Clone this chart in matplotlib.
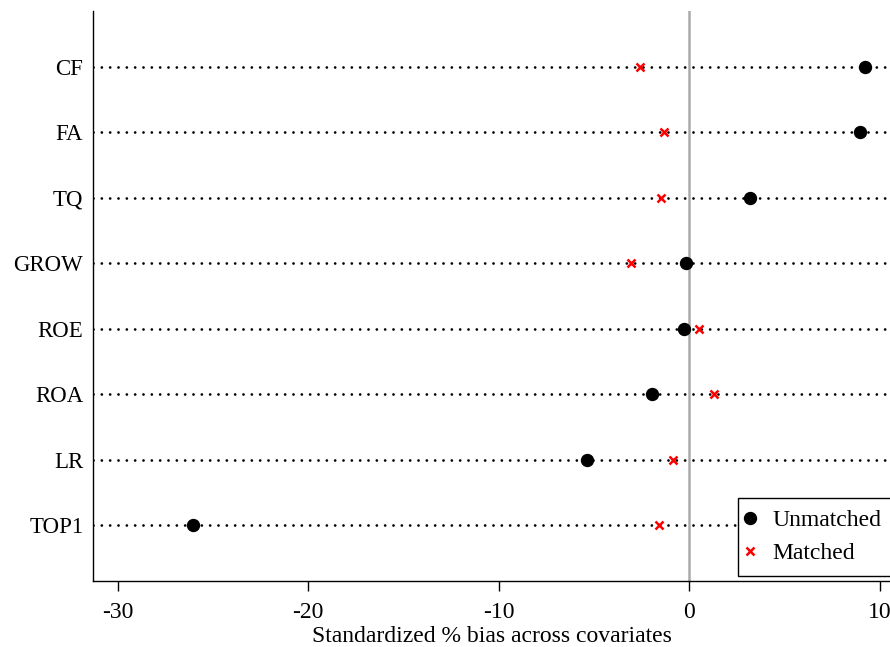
import matplotlib
matplotlib.use("Agg")
import matplotlib.pyplot as plt

covariates = ["CF", "FA", "TQ", "GROW", "ROE", "ROA", "LR", "TOP1"]
unmatched = [9.24, 8.96, 3.20, -0.17, -0.26, -1.94, -5.37, -26.04]
matched = [-2.59, -1.34, -1.49, -3.06, 0.51, 1.28, -0.87, -1.61]
xticks = [-30, -20, -10, 0, 10]
xlabel = "Standardized % bias across covariates"

plt.rcParams['font.family'] = ['Liberation Serif', 'DejaVu Serif']
plt.rcParams['lines.scale_dashes'] = False

fig = plt.figure(figsize=(8.9, 6.47), dpi=100)
ax = fig.add_axes([93/890, 1-581/647, 1-93/890, (581-11)/647])

n = len(covariates)
ypos = list(range(n, 0, -1))

for y in ypos:
    ax.axhline(y, color='black', linestyle=(0, (0.01, 5.99)), linewidth=2.0,
               dash_capstyle='round', zorder=1)
ax.axvline(0, color='#aaaaaa', linewidth=1.8, zorder=1.5)

ax.plot(unmatched, ypos, 'o', color='black', markersize=8.6, linestyle='none',
        zorder=3, label='Unmatched')
ax.plot(matched, ypos, 'x', color='red', markersize=6, markeredgewidth=1.8,
        linestyle='none', zorder=3, label='Matched')

x0 = (93 - 689.3) / 19.05
x1 = (890 - 689.3) / 19.05
ax.set_xlim(x0, x1)
ax.set_ylim(0.5 - (56/65.4 - 0.5), n + 56/65.4)

ax.set_xticks(xticks)
ax.set_xticklabels([str(t) for t in xticks])
ax.set_yticks(ypos)
ax.set_yticklabels(covariates)
ax.tick_params(axis='y', length=0, pad=7, labelsize=16.5)
ax.tick_params(axis='x', length=7, width=1, pad=8, labelsize=17, direction='out')
ax.set_xlabel(xlabel, fontsize=17, labelpad=2)

for s in ['top', 'right']:
    ax.spines[s].set_visible(False)
for s in ['left', 'bottom']:
    ax.spines[s].set_linewidth(1)

leg = fig.legend(*ax.get_legend_handles_labels(), loc='upper left',
                 bbox_to_anchor=(738/890, 1 - 497.5/647), fontsize=17,
                 frameon=True, fancybox=False, edgecolor='black', framealpha=1,
                 handletextpad=0.95, borderpad=0.5, labelspacing=0.5,
                 handlelength=0.0, borderaxespad=0)
leg.get_frame().set_linewidth(1)
leg.set_zorder(10)

fig.savefig("out.png", dpi=100)
